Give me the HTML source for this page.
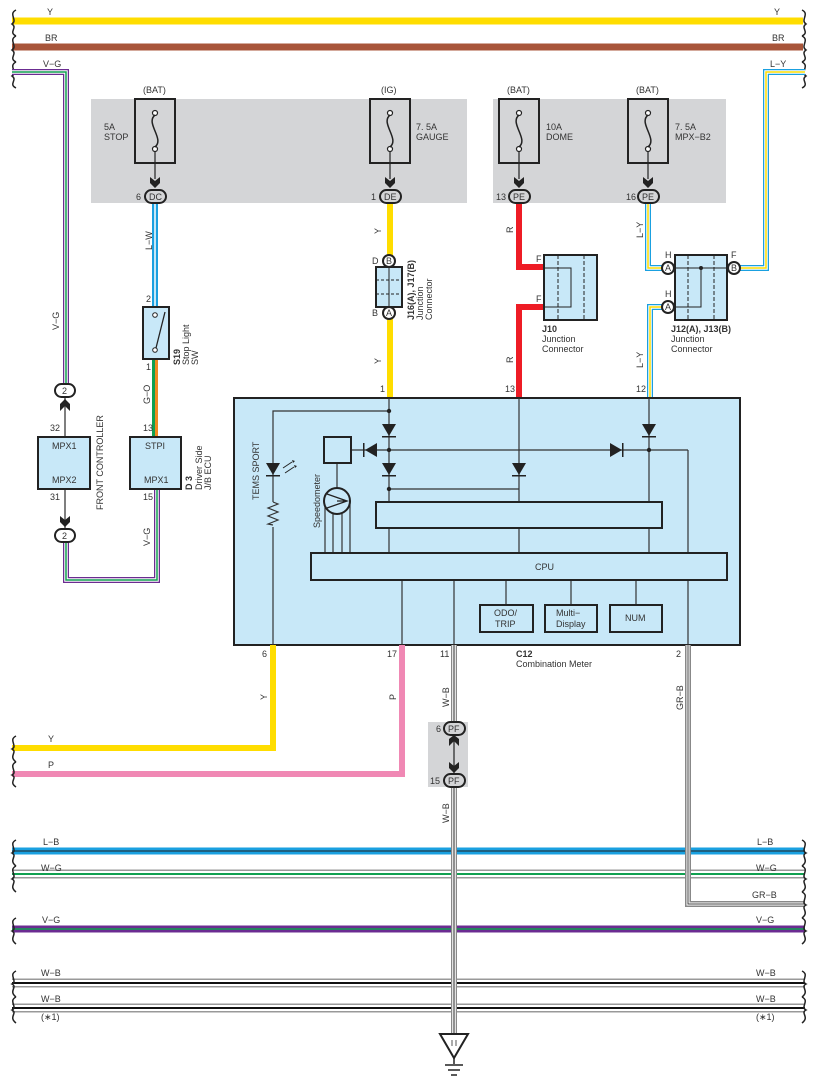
<!DOCTYPE html>
<html><head><meta charset="utf-8"><style>
html,body{margin:0;padding:0;background:#fff}
svg{display:block}
text{font-family:"Liberation Sans",sans-serif;fill:#333;font-size:9px}
</style></head><body>
<svg width="818" height="1087" viewBox="0 0 818 1087" xmlns="http://www.w3.org/2000/svg">
<defs>
<g id="chev"><path d="M-5,-6 L0,-2 L5,-6 L5,0 L0,5 L-5,0 Z" fill="#222"/></g>
<g id="fuse">
<rect x="-20" y="0" width="40" height="64" fill="none" stroke="#222" stroke-width="2"/>
<circle cx="0" cy="14" r="2.5" fill="#fff" stroke="#222" stroke-width="1.2"/>
<circle cx="0" cy="50" r="2.5" fill="#fff" stroke="#222" stroke-width="1.2"/>
<path d="M0,16 C-10,24 10,40 0,48" fill="none" stroke="#222" stroke-width="1.5"/>
<line x1="0" y1="52" x2="0" y2="80" stroke="#222" stroke-width="1.2"/>
</g>
</defs>

<!-- top wires -->
<line x1="12" y1="21" x2="803" y2="21" stroke="#ffdd00" stroke-width="7"/>
<line x1="12" y1="47" x2="803" y2="47" stroke="#a8553a" stroke-width="7"/>
<text x="47" y="15">Y</text><text x="774" y="15">Y</text>
<text x="45" y="41">BR</text><text x="772" y="41">BR</text>
<text x="43" y="67">V−G</text><text x="770" y="67">L−Y</text>

<!-- braces -->
<g fill="none" stroke="#222" stroke-width="1.5">
<path d="M16,10 C8,14 18,20 12,24 C18,28 8,32 16,36"/>
<path d="M16,36 C8,40 18,46 12,50 C18,54 8,58 16,62"/>
<path d="M16,62 C8,66 18,72 12,76 C18,80 8,84 16,88"/>
<path d="M802,10 C810,14 800,20 806,24 C800,28 810,32 802,36"/>
<path d="M802,36 C810,40 800,46 806,50 C800,54 810,58 802,62"/>
<path d="M802,62 C810,66 800,72 806,76 C800,80 810,84 802,88"/>
</g>

<!-- gray boxes -->
<rect x="91" y="99" width="376" height="104" fill="#d4d5d7"/>
<rect x="493" y="99" width="233" height="104" fill="#d4d5d7"/>

<!-- V-G left wire -->
<g fill="none">
<path d="M12,72 H66 V385" stroke="#6b2c91" stroke-width="6"/>
<path d="M12,72 H66 V385" stroke="#fff" stroke-width="3.5"/>
<path d="M12,72 H66 V385" stroke="#10a050" stroke-width="1.5"/>
<path d="M66,541 V580 H157 V489" stroke="#6b2c91" stroke-width="6"/>
<path d="M66,541 V580 H157 V489" stroke="#fff" stroke-width="3.5"/>
<path d="M66,541 V580 H157 V489" stroke="#10a050" stroke-width="1.5"/>
</g>
<text transform="translate(59,330) rotate(-90)">V−G</text>
<text transform="translate(150,546) rotate(-90)">V−G</text>

<!-- L-W -->
<line x1="155" y1="203" x2="155" y2="307" stroke="#1aa0e0" stroke-width="6"/>
<line x1="155" y1="203" x2="155" y2="307" stroke="#fff" stroke-width="1.5"/>
<text transform="translate(152,250) rotate(-90)">L−W</text>
<!-- G-O -->
<line x1="153.5" y1="359" x2="153.5" y2="437" stroke="#10a050" stroke-width="3"/>
<line x1="156.5" y1="359" x2="156.5" y2="437" stroke="#f08a20" stroke-width="3"/>
<text transform="translate(150,404) rotate(-90)">G−O</text>

<!-- Y wire to J16 -->
<line x1="390" y1="203" x2="390" y2="398" stroke="#ffdd00" stroke-width="6"/>
<text transform="translate(381,234) rotate(-90)">Y</text>
<text transform="translate(381,364) rotate(-90)">Y</text>

<!-- R wires -->
<path d="M519,203 V267 H544" fill="none" stroke="#ee1c25" stroke-width="6"/>
<path d="M544,307 H519 V398" fill="none" stroke="#ee1c25" stroke-width="6"/>
<text transform="translate(513,233) rotate(-90)">R</text>
<text transform="translate(513,363) rotate(-90)">R</text>

<!-- L-Y wires -->
<g fill="none">
<path d="M648,203 V268 H676" stroke="#1aa0e0" stroke-width="6"/>
<path d="M648,203 V268 H676" stroke="#fff" stroke-width="3.5"/>
<path d="M648,203 V268 H676" stroke="#ffdd00" stroke-width="1.5"/>
<path d="M726,268 H766 V72 H805" stroke="#1aa0e0" stroke-width="6"/>
<path d="M726,268 H766 V72 H805" stroke="#fff" stroke-width="3.5"/>
<path d="M726,268 H766 V72 H805" stroke="#ffdd00" stroke-width="1.5"/>
<path d="M676,307 H650 V398" stroke="#1aa0e0" stroke-width="6"/>
<path d="M676,307 H650 V398" stroke="#fff" stroke-width="3.5"/>
<path d="M676,307 H650 V398" stroke="#ffdd00" stroke-width="1.5"/>
</g>
<text transform="translate(643,238) rotate(-90)">L−Y</text>
<text transform="translate(643,368) rotate(-90)">L−Y</text>

<!-- fuses -->
<g transform="translate(155,99)"><use href="#fuse"/></g>
<g transform="translate(390,99)"><use href="#fuse"/></g>
<g transform="translate(519,99)"><use href="#fuse"/></g>
<g transform="translate(648,99)"><use href="#fuse"/></g>
<use href="#chev" x="155" y="183"/><use href="#chev" x="390" y="183"/><use href="#chev" x="519" y="183"/><use href="#chev" x="648" y="183"/>
<text x="143" y="93">(BAT)</text><text x="381" y="93">(IG)</text><text x="507" y="93">(BAT)</text><text x="636" y="93">(BAT)</text>
<text x="104" y="130">5A</text><text x="104" y="140">STOP</text>
<text x="416" y="130">7. 5A</text><text x="416" y="140">GAUGE</text>
<text x="546" y="130">10A</text><text x="546" y="140">DOME</text>
<text x="675" y="130">7. 5A</text><text x="675" y="140">MPX−B2</text>

<!-- connector ovals -->
<g stroke="#222" stroke-width="2" fill="#d4d5d7">
<rect x="145" y="190" width="21" height="13" rx="6.5"/>
<rect x="380" y="190" width="21" height="13" rx="6.5"/>
<rect x="509" y="190" width="21" height="13" rx="6.5"/>
<rect x="638" y="190" width="21" height="13" rx="6.5"/>
</g>
<g font-size="9"><text x="149" y="200">DC</text><text x="384" y="200">DE</text><text x="513" y="200">PE</text><text x="642" y="200">PE</text>
<text x="136" y="200">6</text><text x="371" y="200">1</text><text x="496" y="200">13</text><text x="626" y="200">16</text></g>

<!-- S19 switch -->
<rect x="143" y="307" width="26" height="52" fill="#c8e8f8" stroke="#222" stroke-width="2"/>
<circle cx="155" cy="315" r="2.3" fill="#fff" stroke="#222"/>
<circle cx="155" cy="350" r="2.3" fill="#fff" stroke="#222"/>
<line x1="156" y1="348" x2="165" y2="312" stroke="#222" stroke-width="1.3"/>
<text x="146" y="302">2</text><text x="146" y="370">1</text>
<text transform="translate(180,365) rotate(-90)" font-weight="bold">S19</text>
<text transform="translate(189,365) rotate(-90)">Stop Light</text>
<text transform="translate(198,365) rotate(-90)">SW</text>

<!-- D3 -->
<rect x="130" y="437" width="51" height="52" fill="#c8e8f8" stroke="#222" stroke-width="2"/>
<text x="145" y="449">STPI</text><text x="144" y="483">MPX1</text>
<text x="143" y="431">13</text><text x="143" y="500">15</text>
<text transform="translate(192,490) rotate(-90)" font-weight="bold">D 3</text>
<text transform="translate(202,490) rotate(-90)">Driver Side</text>
<text transform="translate(211,490) rotate(-90)">J/B ECU</text>

<!-- Front controller -->
<line x1="65" y1="398" x2="65" y2="535" stroke="#555" stroke-width="1.5"/>
<rect x="38" y="437" width="52" height="52" fill="#c8e8f8" stroke="#222" stroke-width="2"/>
<text x="52" y="449">MPX1</text><text x="52" y="483">MPX2</text>
<text x="50" y="431">32</text><text x="50" y="500">31</text>
<g stroke="#222" stroke-width="2" fill="#fff">
<rect x="55" y="384" width="20" height="13" rx="6.5"/>
<rect x="55" y="529" width="20" height="13" rx="6.5"/>
</g>
<text x="62" y="394">2</text><text x="62" y="539">2</text>
<path d="M60,411 L65,406 L70,411 L70,404 L65,399 L60,404 Z" fill="#222"/>
<use href="#chev" x="65" y="522"/>
<text transform="translate(103,510) rotate(-90)">FRONT CONTROLLER</text>

<!-- J16 -->
<rect x="376" y="267" width="26" height="40" fill="#c8e8f8" stroke="#222" stroke-width="2"/>
<line x1="389" y1="267" x2="389" y2="307" stroke="#222"/>
<line x1="376" y1="280" x2="402" y2="280" stroke="#222" stroke-dasharray="3,2"/>
<line x1="376" y1="294" x2="402" y2="294" stroke="#222" stroke-dasharray="3,2"/>
<circle cx="389" cy="261" r="6" fill="#fff" stroke="#222" stroke-width="2"/>
<circle cx="389" cy="313" r="6" fill="#fff" stroke="#222" stroke-width="2"/>
<text x="386" y="264" font-size="8">B</text><text x="386" y="316" font-size="8">A</text>
<text x="372" y="264">D</text><text x="372" y="316">B</text>
<text transform="translate(414,320) rotate(-90)" font-weight="bold">J16(A), J17(B)</text>
<text transform="translate(423,320) rotate(-90)">Junction</text>
<text transform="translate(432,320) rotate(-90)">Connector</text>

<!-- J10 -->
<rect x="544" y="255" width="53" height="65" fill="#c8e8f8" stroke="#222" stroke-width="2"/>
<path d="M544,268 H571 V307 H544" fill="none" stroke="#222"/>
<line x1="558" y1="255" x2="558" y2="320" stroke="#222" stroke-dasharray="4,2"/>
<line x1="584" y1="255" x2="584" y2="320" stroke="#222" stroke-dasharray="4,2"/>
<text x="536" y="262">F</text><text x="536" y="302">F</text>
<text x="542" y="332" font-weight="bold">J10</text>
<text x="542" y="342">Junction</text><text x="542" y="352">Connector</text>

<!-- J12 -->
<rect x="675" y="255" width="52" height="65" fill="#c8e8f8" stroke="#222" stroke-width="2"/>
<line x1="675" y1="268" x2="727" y2="268" stroke="#222"/>
<path d="M701,268 V307 H675" fill="none" stroke="#222"/>
<circle cx="701" cy="268" r="2" fill="#222"/>
<line x1="688" y1="255" x2="688" y2="320" stroke="#222" stroke-dasharray="4,2"/>
<line x1="714" y1="255" x2="714" y2="320" stroke="#222" stroke-dasharray="4,2"/>
<circle cx="668" cy="268" r="6" fill="#fff" stroke="#222" stroke-width="2"/>
<circle cx="668" cy="307" r="6" fill="#fff" stroke="#222" stroke-width="2"/>
<circle cx="734" cy="268" r="6" fill="#fff" stroke="#222" stroke-width="2"/>
<text x="665" y="271" font-size="8">A</text><text x="665" y="310" font-size="8">A</text><text x="731" y="271" font-size="8">B</text>
<text x="665" y="258">H</text><text x="665" y="297">H</text><text x="731" y="258">F</text>
<text x="671" y="332" font-weight="bold">J12(A), J13(B)</text>
<text x="671" y="342">Junction</text><text x="671" y="352">Connector</text>

<!-- pin labels at meter top -->
<text x="380" y="392">1</text><text x="505" y="392">13</text><text x="636" y="392">12</text>

<!-- Meter -->
<rect x="234" y="398" width="506" height="247" fill="#c8e8f8" stroke="#222" stroke-width="2"/>
<g stroke="#333" stroke-width="1.2" fill="none">
<line x1="389" y1="398" x2="389" y2="553"/>
<path d="M389,411 H273 V502"/>
<path d="M273,527 V645"/>
<path d="M273,502 l5,2 l-10,4 l10,4 l-10,4 l10,4 l-10,4 l5,1"/>
<line x1="519" y1="398" x2="519" y2="553"/>
<path d="M389,489 H519"/>
<line x1="351" y1="450" x2="688" y2="450"/>
<line x1="649" y1="398" x2="649" y2="553"/>
<line x1="688" y1="450" x2="688" y2="645"/>
<line x1="337" y1="463" x2="337" y2="488"/>
<line x1="325" y1="500" x2="325" y2="553"/><line x1="333" y1="514" x2="333" y2="553"/><line x1="342" y1="514" x2="342" y2="553"/><line x1="350" y1="500" x2="350" y2="553"/>
<line x1="402" y1="580" x2="402" y2="645"/>
<line x1="454" y1="580" x2="454" y2="645"/>
<line x1="506" y1="580" x2="506" y2="605"/>
<line x1="571" y1="580" x2="571" y2="605"/>
<line x1="636" y1="580" x2="636" y2="605"/>
</g>
<g fill="#222">
<circle cx="389" cy="411" r="2.2"/><circle cx="389" cy="450" r="2.2"/><circle cx="389" cy="489" r="2.2"/><circle cx="649" cy="450" r="2.2"/>
<path d="M382,424 H396 L389,436 Z"/><rect x="382" y="436" width="14" height="1.5"/>
<path d="M382,463 H396 L389,475 Z"/><rect x="382" y="475" width="14" height="1.5"/>
<path d="M512,463 H526 L519,475 Z"/><rect x="512" y="475" width="14" height="1.5"/>
<path d="M642,424 H656 L649,436 Z"/><rect x="642" y="436" width="14" height="1.5"/>
<path d="M266,463 H280 L273,475 Z"/><rect x="266" y="475" width="14" height="1.5"/>
<path d="M377,443 V457 L365,450 Z"/><rect x="363" y="443" width="1.5" height="14"/>
<path d="M610,443 V457 L622,450 Z"/><rect x="622" y="443" width="1.5" height="14"/>
</g>
<g stroke="#222" stroke-width="1" fill="none"><path d="M283,468 L292,462"/><path d="M285,473 L294,467"/></g>
<path d="M292,460 l3,1 l-2,2 Z M294,465 l3,1 l-2,2 Z" fill="#222"/>
<rect x="324" y="437" width="27" height="26" fill="#c8e8f8" stroke="#222" stroke-width="2"/>
<circle cx="337" cy="501" r="13" fill="#c8e8f8" stroke="#222" stroke-width="2"/>
<path d="M327,494 L347,501 L327,508 M337,501 H347" fill="none" stroke="#222" stroke-width="1.3"/>
<rect x="376" y="502" width="286" height="26" fill="#c8e8f8" stroke="#222" stroke-width="2"/>
<rect x="311" y="553" width="416" height="27" fill="#c8e8f8" stroke="#222" stroke-width="2"/>
<text x="535" y="570">CPU</text>
<rect x="480" y="605" width="53" height="27" fill="#c8e8f8" stroke="#222" stroke-width="2"/>
<rect x="545" y="605" width="52" height="27" fill="#c8e8f8" stroke="#222" stroke-width="2"/>
<rect x="610" y="605" width="52" height="27" fill="#c8e8f8" stroke="#222" stroke-width="2"/>
<text x="494" y="616">ODO/</text><text x="495" y="627">TRIP</text>
<text x="556" y="616">Multi−</text><text x="556" y="627">Display</text>
<text x="625" y="621">NUM</text>
<text transform="translate(259,500) rotate(-90)">TEMS SPORT</text>
<text transform="translate(320,528) rotate(-90)" font-size="8.5">Speedometer</text>

<text x="262" y="657">6</text><text x="387" y="657">17</text><text x="440" y="657">11</text><text x="676" y="657">2</text>
<text x="516" y="657" font-weight="bold">C12</text><text x="516" y="667">Combination Meter</text>

<!-- Y, P lower -->
<path d="M12,748 H273 V645" fill="none" stroke="#ffdd00" stroke-width="6"/>
<path d="M12,774 H402 V645" fill="none" stroke="#f088b4" stroke-width="6"/>
<text transform="translate(267,700) rotate(-90)">Y</text>
<text transform="translate(396,700) rotate(-90)">P</text>
<text x="48" y="742">Y</text><text x="48" y="768">P</text>
<g fill="none" stroke="#222" stroke-width="1.5">
<path d="M16,736 C8,740 18,746 12,749 C18,752 8,756 16,762"/>
<path d="M16,762 C8,766 18,772 12,775 C18,778 8,782 16,787"/>
</g>

<!-- bottom bus wires -->
<line x1="12" y1="851" x2="805" y2="851" stroke="#1aa0e0" stroke-width="7"/>
<line x1="12" y1="851" x2="805" y2="851" stroke="#222" stroke-width="1"/>
<line x1="12" y1="874" x2="805" y2="874" stroke="#999" stroke-width="9"/>
<line x1="12" y1="874" x2="805" y2="874" stroke="#fff" stroke-width="6"/>
<line x1="12" y1="874" x2="805" y2="874" stroke="#10a050" stroke-width="2"/>
<line x1="12" y1="929" x2="805" y2="929" stroke="#6b2c91" stroke-width="7"/>
<line x1="12" y1="929" x2="805" y2="929" stroke="#10a050" stroke-width="1.5"/>
<line x1="12" y1="983" x2="805" y2="983" stroke="#999" stroke-width="9"/>
<line x1="12" y1="983" x2="805" y2="983" stroke="#fff" stroke-width="6"/>
<line x1="12" y1="983" x2="805" y2="983" stroke="#111" stroke-width="2"/>
<line x1="12" y1="1008" x2="805" y2="1008" stroke="#999" stroke-width="9"/>
<line x1="12" y1="1008" x2="805" y2="1008" stroke="#fff" stroke-width="6"/>
<line x1="12" y1="1008" x2="805" y2="1008" stroke="#111" stroke-width="2"/>

<!-- GR-B -->
<path d="M688,645 V904 H805" fill="none" stroke="#888" stroke-width="6"/>
<path d="M688,645 V904 H805" fill="none" stroke="#fff" stroke-width="3"/>
<path d="M688,645 V904 H805" fill="none" stroke="#444" stroke-width="1"/>
<text transform="translate(683,710) rotate(-90)">GR−B</text>

<!-- W-B vertical -->
<line x1="454" y1="645" x2="454" y2="1035" stroke="#888" stroke-width="6"/>
<line x1="454" y1="645" x2="454" y2="1035" stroke="#fff" stroke-width="3.5"/>
<line x1="454" y1="645" x2="454" y2="1035" stroke="#222" stroke-width="1"/>
<text transform="translate(449,707) rotate(-90)">W−B</text>
<text transform="translate(449,823) rotate(-90)">W−B</text>
<rect x="428" y="722" width="40" height="65" fill="#d4d5d7"/>
<line x1="454" y1="735" x2="454" y2="774" stroke="#222" stroke-width="1.2"/>
<g stroke="#222" stroke-width="2" fill="#d4d5d7">
<rect x="444" y="722" width="21" height="13" rx="6.5"/>
<rect x="444" y="774" width="21" height="13" rx="6.5"/>
</g>
<text x="448" y="732">PF</text><text x="448" y="784">PF</text>
<text x="436" y="732">6</text><text x="430" y="784">15</text>
<path d="M449,746 L454,741 L459,746 L459,739 L454,735 L449,739 Z" fill="#222"/>
<use href="#chev" x="454" y="768"/>
<path d="M440,1034 H468 L454,1058 Z" fill="#fff" stroke="#222" stroke-width="2"/>
<line x1="452" y1="1040" x2="452" y2="1046" stroke="#555"/><line x1="456" y1="1040" x2="456" y2="1046" stroke="#555"/>
<line x1="454" y1="1058" x2="454" y2="1064" stroke="#222" stroke-width="1.5"/>
<line x1="445" y1="1065" x2="463" y2="1065" stroke="#222" stroke-width="1.5"/>
<line x1="448" y1="1070" x2="460" y2="1070" stroke="#222" stroke-width="1.5"/>
<line x1="451" y1="1075" x2="457" y2="1075" stroke="#222" stroke-width="1.5"/>

<!-- bus labels -->
<g font-size="8.5">
<text x="43" y="845">L−B</text><text x="757" y="845">L−B</text>
<text x="41" y="871">W−G</text><text x="756" y="871">W−G</text>
<text x="752" y="898">GR−B</text>
<text x="42" y="923">V−G</text><text x="756" y="923">V−G</text>
<text x="41" y="976">W−B</text><text x="756" y="976">W−B</text>
<text x="41" y="1002">W−B</text><text x="756" y="1002">W−B</text>
<text x="41" y="1020">(∗1)</text><text x="756" y="1020">(∗1)</text>
</g>
<g fill="none" stroke="#222" stroke-width="1.5">
<path d="M16,840 C8,844 18,850 12,853 C18,856 8,860 16,866"/>
<path d="M16,866 C8,870 18,876 12,879 C18,882 8,886 16,892"/>
<path d="M16,918 C8,922 18,928 12,931 C18,934 8,938 16,944"/>
<path d="M16,971 C8,975 18,981 12,984 C18,987 8,991 16,997"/>
<path d="M16,997 C8,1001 18,1007 12,1010 C18,1013 8,1017 16,1023"/>
<path d="M802,840 C810,844 800,850 806,853 C800,856 810,860 802,866"/>
<path d="M802,866 C810,870 800,876 806,879 C800,882 810,886 802,892"/>
<path d="M802,892 C810,896 800,902 806,905 C800,908 810,912 802,918"/>
<path d="M802,918 C810,922 800,928 806,931 C800,934 810,938 802,944"/>
<path d="M802,971 C810,975 800,981 806,984 C800,987 810,991 802,997"/>
<path d="M802,997 C810,1001 800,1007 806,1010 C800,1013 810,1017 802,1023"/>
</g>
</svg>
</body></html>
